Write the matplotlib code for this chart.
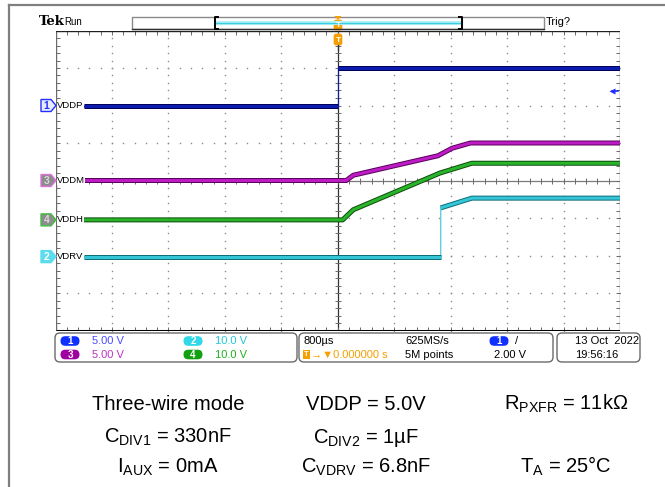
import numpy as np
import matplotlib.pyplot as plt
from matplotlib.collections import LineCollection
from matplotlib.patches import FancyBboxPatch, Polygon, Rectangle

plt.rcParams['font.family'] = ['Liberation Sans', 'DejaVu Sans']
plt.rcParams['mathtext.default'] = 'regular'
NARROW = ['Liberation Sans Narrow', 'Liberation Sans', 'DejaVu Sans']

# scope settings
time_per_div = 0.8          # ms / div (800 us)
ch_names = ['VDDP', 'VDRV', 'VDDM', 'VDDH']      # ch1..ch4
ch_numbers = ['1', '2', '3', '4']
volts_per_div = [5.0, 10.0, 5.0, 10.0]
offsets_div = [2.0, -2.03, 0.0, -1.05]
trig_level = 2.0            # V on ch1

# waveforms: time (ms), volts
vddp_t = [-3.6, 0.0, 0.0, 4.0]
vddp_v = [0.0, 0.0, 5.0, 5.0]
vdrv_t = [-3.6, 1.46, 1.46, 1.9, 4.0]
vdrv_v = [0.0, 0.0, 13.0, 15.6, 15.6]
vddm_t = [-3.6, 0.12, 0.22, 1.42, 1.62, 1.88, 4.0]
vddm_v = [0.0, 0.0, 0.7, 3.3, 4.3, 5.0, 5.0]
vddh_t = [-3.6, 0.07, 0.22, 1.45, 1.9, 4.0]
vddh_v = [0.0, 0.0, 2.7, 12.5, 15.1, 15.1]
waves = [(vddp_t, vddp_v), (vdrv_t, vdrv_v), (vddm_t, vddm_v), (vddh_t, vddh_v)]

trace_colors = ['#0c1cac', '#34c6d6', '#bc1cc4', '#2ab42a']
edge_colors = ['#00005c', '#0c6c7a', '#5c005c', '#0c4a0c']
flag_fill = ['#e8ecff', '#5cdcec', '#8c8c8c', '#8c8c8c']
flag_edge = ['#2030ff', '#5cdcec', '#e070e0', '#40c040']
flag_text = ['#2030ff', 'white', '#d8d8d8', '#d8d8d8']
oval_colors = ['#1030ff', '#30d8e8', '#a000a0', '#10a010']
scale_colors = ['#4a4aff', '#20c8d8', '#c030c8', '#20b020']

W, H = 665, 487
gl, gr, gt, gb = 55.5, 620.0, 30.5, 330.5
px_x = time_per_div / ((gr - gl) / 10)    # ms per pixel
px_y = 8 / (gb - gt)                      # div per pixel

fig = plt.figure(figsize=(W / 100, H / 100), dpi=100, facecolor='white')
ax = fig.add_axes([gl / W, 1 - gb / H, (gr - gl) / W, (gb - gt) / H], zorder=1)
ax.set_xlim(-5 * time_per_div, 5 * time_per_div)
ax.set_ylim(-4, 4)
ax.axis('off')

# graticule dots
tx = np.arange(-25, 26) * 0.2 * time_per_div
ty = np.arange(-20, 21) * 0.2
for i in range(-4, 5):
    if i == 0:
        continue
    ax.plot(np.full_like(ty, i * time_per_div), ty, ls='none', marker='s', ms=1.0,
            color='#8c8c8c', mec='none')
for j in range(-3, 4):
    if j == 0:
        continue
    ax.plot(tx, np.full_like(tx, j), ls='none', marker='s', ms=1.0, color='#8c8c8c', mec='none')

# centre lines and their ticks
ax.plot([0, 0], [-4, 4], color='#303030', lw=0.9)
ax.plot([-4, 4], [0, 0], color='#7a7a7a', lw=0.9)
ticks = [[(-3 * px_x, y), (3 * px_x, y)] for y in ty]
ticks += [[(x, -3 * px_y), (x, 3 * px_y)] for x in tx]
# edge ticks (inward)
ticks += [[(x, 4), (x, 4 - 4 * px_y)] for x in tx]
ticks += [[(x, -4), (x, -4 + 4 * px_y)] for x in tx]
ticks += [[(-4, y), (-4 + 4 * px_x, y)] for y in ty]
ticks += [[(4, y), (4 - 4 * px_x, y)] for y in ty]
ax.add_collection(LineCollection(ticks, colors='#6a6a6a', linewidths=0.7))
ax.plot([-4, -4], [-4, 4], color='#6a6a6a', lw=1.0)
ax.plot([4, 4], [-4, 4], color='#6a6a6a', lw=1.0)
ax.plot([-4, 4], [4, 4], color='#202020', lw=1.0)
ax.plot([-4, 4], [-4, -4], color='black', lw=2.2, solid_capstyle='butt')

# traces
for ch, (t, v) in enumerate(waves):
    t = np.asarray(t)
    y = offsets_div[ch] + np.asarray(v) / volts_per_div[ch]
    ax.plot(t, y, color=trace_colors[ch], lw=0.8, zorder=3)
    cuts = list(np.where(np.diff(t) == 0)[0]) + [len(t) - 1]
    start = 0
    for c in cuts:
        ax.plot(t[start:c + 1], y[start:c + 1], color=edge_colors[ch], lw=3.6,
                solid_capstyle='butt', zorder=3)
        ax.plot(t[start:c + 1], y[start:c + 1], color=trace_colors[ch], lw=2.2,
                solid_capstyle='butt', zorder=4)
        start = c + 1
    ax.text(-4 + 1.5 * px_x, offsets_div[ch], ch_names[ch], ha='left', va='center',
            fontsize=6.8, family=NARROW, color='black', zorder=6,
            bbox=dict(fc='white', ec='none', pad=0.2))

# trigger level arrow on the right
tl = offsets_div[0] + trig_level / volts_per_div[0]
ax.plot([4 - 8 * px_x, 4 - 2 * px_x], [tl, tl], color='#2030ff', lw=1.2, zorder=5)
ax.plot([4 - 8 * px_x], [tl], marker='<', ms=4.5, color='#2030ff', mec='none', zorder=5)

# ---- overlay in pixel coordinates ----
ov = fig.add_axes([0, 0, 1, 1], zorder=3)
ov.set_xlim(0, W)
ov.set_ylim(H, 0)
ov.axis('off')

ov.plot([9, 9], [H, 5], color='#7f7f7f', lw=1.6)
ov.plot([9, W], [5, 5], color='#7f7f7f', lw=1.6)

# header
ov.text(39, 25, 'Tek', fontsize=9.5, fontweight='bold', family='DejaVu Serif', va='baseline')
ov.text(64, 25, 'Run', fontsize=7, family=NARROW, va='baseline')
ov.text(546, 25, 'Trig?', fontsize=8, family=NARROW, va='baseline')
ov.add_patch(Rectangle((131.5, 17), 412.5, 12, fc='white', ec='#8a8a8a', lw=1))
ov.plot([131.5, 544], [29, 29], color='#303030', lw=1)
ov.plot([216, 461], [23, 23], color='#b8f0f8', lw=3.0, solid_capstyle='butt')
ov.plot([216, 461], [23, 23], color='#38d0e0', lw=1.0)
for bx, d in ((215, 3), (462, -3)):
    ov.plot([bx + d, bx, bx, bx + d], [17, 17, 29, 29], color='black', lw=1.4)


def t_marker(x, y0, y1):
    ov.add_patch(FancyBboxPatch((x - 4, y0), 8, y1 - y0,
                                boxstyle='round,pad=0,rounding_size=2',
                                fc='#f5a000', ec='#f5a000', lw=0.5))
    ov.text(x, (y0 + y1) / 2 + 0.5, 'T', color='white', fontsize=6, fontweight='bold',
            ha='center', va='center')


ov.add_patch(Polygon([(334.5, 16), (341.5, 16), (338, 20)], fc='#f5a000', ec='none'))
t_marker(338, 20, 30)
t_marker(338, 34, 45)
ov.plot([338, 338], [45, 50], color='#303030', lw=0.9)

# channel flags on the left
for ch in range(4):
    yc = gb - (offsets_div[ch] + 4) / px_y
    ov.add_patch(Polygon([(41, yc - 6), (51, yc - 6), (56, yc), (51, yc + 6), (41, yc + 6)],
                         fc=flag_fill[ch], ec=flag_edge[ch], lw=1))
    ov.text(46.5, yc + 0.5, ch_numbers[ch], color=flag_text[ch], fontsize=7.5,
            fontweight='bold', ha='center', va='center', family=NARROW)

# info bar
for x0, x1 in ((55, 297), (299, 553), (557, 640)):
    ov.add_patch(FancyBboxPatch((x0, 333), x1 - x0, 29,
                                boxstyle='round,pad=0,rounding_size=5',
                                fc='white', ec='#6a6a6a', lw=1))


def oval(xc, yc, label, col):
    ov.add_patch(FancyBboxPatch((xc - 9.5, yc - 4.8), 19, 9.6,
                                boxstyle='round,pad=0,rounding_size=4.8',
                                fc=col, ec='none'))
    ov.text(xc, yc + 0.3, label, color='white', fontsize=7, fontweight='bold',
            ha='center', va='center', family=NARROW)


row1, row2 = 341, 354.5
scale_pos = [(70, row1), (193, row1), (70, row2), (193, row2)]
for ch in range(4):
    xc, yc = scale_pos[ch]
    oval(xc, yc, ch_numbers[ch], oval_colors[ch])
    txt = '%.2f V' % volts_per_div[ch] if volts_per_div[ch] < 10 else '%.1f V' % volts_per_div[ch]
    ov.text(xc + 22, yc, txt, color=scale_colors[ch], fontsize=8, va='center', family=NARROW)

ov.text(303, row1, '800µs', fontsize=8, va='center', family=NARROW)
ov.add_patch(Rectangle((303, row2 - 4.5), 7, 9, fc='#f5a000', ec='none'))
ov.text(306.5, row2 + 0.3, 'T', color='white', fontsize=5.5, fontweight='bold',
        ha='center', va='center')
ov.text(311, row2, '→▼0.000000 s', color='#f5a000', fontsize=8, va='center',
        family=NARROW)
ov.text(405, row1, '625MS/s', fontsize=8, va='center', family=NARROW)
ov.text(405, row2, '5M points', fontsize=8, va='center', family=NARROW)
oval(499, row1, ch_numbers[0], oval_colors[0])
ov.text(515, row1, '/', fontsize=8, va='center', family=NARROW)
ov.text(494, row2, '%.2f V' % trig_level, fontsize=8, va='center', family=NARROW)
ov.text(575, row1, '13 Oct  2022', fontsize=8, va='center', family=NARROW)
ov.text(575, row2, '19:56:16', fontsize=8, va='center', family=NARROW)

# test conditions
cond_rows = [
    ['Three-wire mode', 'VDDP = 5.0V', 'R$_{PXFR}$ = 11kΩ'],
    ['C$_{DIV1}$ = 330nF', 'C$_{DIV2}$ = 1µF', ''],
    ['I$_{AUX}$ = 0mA', 'C$_{VDRV}$ = 6.8nF', 'T$_{A}$ = 25°C'],
]
col_x = [168, 366, 566]
row_base = [410, 443, 473]
for r, row in enumerate(cond_rows):
    for c, s in enumerate(row):
        if s:
            ov.text(col_x[c], row_base[r], s, fontsize=14.5, ha='center', va='baseline')

fig.savefig('out.png', dpi=100, facecolor='white')
